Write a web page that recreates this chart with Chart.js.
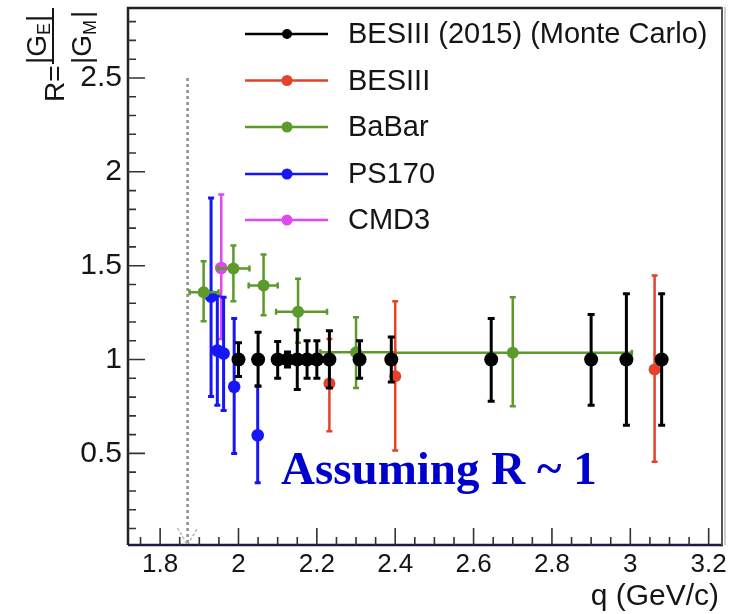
<!DOCTYPE html>
<html><head><meta charset="utf-8">
<script src="https://cdn.jsdelivr.net/npm/chart.js@4.4.1/dist/chart.umd.min.js"></script>
<style>html,body{margin:0;padding:0;background:#fff;}canvas{display:block;}</style>
</head><body>
<canvas id="c" width="733" height="614"></canvas>
<script>
// ---- tick labels ----
const xTickLabels = [1.8, 2.0, 2.2, 2.4, 2.6, 2.8, 3.0, 3.2];
const yTickLabels = [0.5, 1.0, 1.5, 2.0, 2.5];
const xMinorStep = 0.05;
const yMinorStep = 0.1;

// ---- series names ----
const seriesNames = ["BESIII (2015) (Monte Carlo)", "BESIII", "BaBar", "PS170", "CMD3"];

// ---- BESIII (2015) Monte Carlo ----
const mcQ      = [2.000, 2.050, 2.100, 2.125, 2.150, 2.175, 2.200, 2.232, 2.309, 2.390, 2.645, 2.900, 2.990, 3.080];
const mcR      = [1.000, 1.000, 1.000, 1.000, 1.000, 1.000, 1.000, 1.000, 1.000, 1.000, 1.000, 1.000, 1.000, 1.000];
const mcErrUp  = [0.090, 0.145, 0.096, 0.040, 0.158, 0.100, 0.100, 0.153, 0.100, 0.120, 0.218, 0.240, 0.350, 0.350];
const mcErrDn  = [0.090, 0.142, 0.100, 0.040, 0.160, 0.100, 0.100, 0.151, 0.100, 0.120, 0.222, 0.243, 0.350, 0.350];

// ---- BESIII ----
const besQ     = [2.232, 2.400, 3.062];
const besR     = [0.872, 0.911, 0.947];
const besErrUp = [0.238, 0.400, 0.500];
const besErrDn = [0.254, 0.396, 0.492];

// ---- BaBar ----
const babarQ      = [1.911, 1.987, 2.064, 2.152, 2.300, 2.700];
const babarR      = [1.358, 1.485, 1.394, 1.255, 1.039, 1.036];
const babarErrUp  = [0.165, 0.122, 0.165, 0.175, 0.186, 0.296];
const babarErrDn  = [0.154, 0.175, 0.158, 0.165, 0.190, 0.285];
const babarQErrLo = [0.036, 0.040, 0.038, 0.056, 0.091, 0.300];
const babarQErrHi = [0.038, 0.041, 0.036, 0.074, 0.100, 0.304];

// ---- PS170 ----
const ps170Q     = [1.930, 1.946, 1.962, 1.989, 2.049];
const ps170R     = [1.336, 1.048, 1.032, 0.855, 0.597];
const ps170ErrUp = [0.525, 0.290, 0.300, 0.363, 0.263];
const ps170ErrDn = [0.533, 0.292, 0.304, 0.356, 0.254];

// ---- CMD3 ----
const cmd3Q     = [1.956];
const cmd3R     = [1.488];
const cmd3ErrUp = [0.391];
const cmd3ErrDn = [0.378];

// ---- threshold (2 m_p) ----
const thresholdQ = 1.87;
const thresholdR = [2.5, 0.0];

const colors = ["#000000", "#e4422a", "#5b9a2b", "#1717f5", "#e048f0"];

function pts(q, r, up, dn, xl, xh) {
  return q.map((v, i) => ({x: v, y: r[i], eu: up[i], ed: dn[i], xl: xl ? xl[i] : 0, xh: xh ? xh[i] : 0}));
}

const errorBars = {
  id: 'errorBars',
  beforeDatasetDraw(chart, args) {
    const ds = chart.data.datasets[args.index];
    if (!ds.errLW) return;
    const {ctx, chartArea: a, scales: {x, y}} = chart;
    ctx.save();
    ctx.beginPath(); ctx.rect(a.left, a.top, a.right - a.left, a.bottom - a.top); ctx.clip();
    ctx.strokeStyle = ds.borderColor; ctx.lineWidth = ds.errLW; ctx.lineCap = 'butt';
    const c = ds.cap;
    ds.data.forEach(p => {
      const px = x.getPixelForValue(p.x), py = y.getPixelForValue(p.y);
      const t = y.getPixelForValue(p.y + p.eu), b = y.getPixelForValue(p.y - p.ed);
      ctx.beginPath();
      ctx.moveTo(px, t); ctx.lineTo(px, b);
      ctx.moveTo(px - c, t); ctx.lineTo(px + c, t);
      ctx.moveTo(px - c, b); ctx.lineTo(px + c, b);
      if (p.xl || p.xh) {
        const l = x.getPixelForValue(p.x - p.xl), r = x.getPixelForValue(p.x + p.xh);
        ctx.moveTo(l, py); ctx.lineTo(r, py);
        ctx.moveTo(l, py - c); ctx.lineTo(l, py + c);
        ctx.moveTo(r, py - c); ctx.lineTo(r, py + c);
      }
      ctx.stroke();
    });
    ctx.restore();
  }
};

const decor = {
  id: 'decor',
  afterDraw(chart) {
    const {ctx, chartArea: a, scales: {x, y}} = chart;
    ctx.save();
    // arrow head of threshold
    const tx = x.getPixelForValue(thresholdQ);
    ctx.strokeStyle = '#b8b8b8'; ctx.lineWidth = 1.5; ctx.setLineDash([3, 2]);
    ctx.beginPath();
    ctx.moveTo(tx - 10, a.bottom - 17); ctx.lineTo(tx, a.bottom);
    ctx.lineTo(tx + 10, a.bottom - 17);
    ctx.stroke();
    ctx.setLineDash([]);
    // frame
    ctx.strokeStyle = '#222'; ctx.lineWidth = 2.5;
    ctx.beginPath();
    ctx.moveTo(a.left, a.bottom); ctx.lineTo(a.left, a.top + 1); ctx.lineTo(a.right, a.top + 1);
    ctx.stroke();
    ctx.strokeStyle = '#1c1c40';
    ctx.beginPath(); ctx.moveTo(a.left, a.bottom); ctx.lineTo(a.right + 1, a.bottom); ctx.stroke();
    ctx.strokeStyle = '#555'; ctx.lineWidth = 2;
    ctx.beginPath(); ctx.moveTo(a.right, a.top); ctx.lineTo(a.right, a.bottom); ctx.stroke();
    ctx.strokeStyle = '#cfcfcf'; ctx.lineWidth = 2;
    ctx.beginPath(); ctx.moveTo(a.right + 3, a.top); ctx.lineTo(a.right + 3, a.bottom); ctx.stroke();
    // ticks
    ctx.strokeStyle = '#333'; ctx.lineWidth = 1.6;
    ctx.beginPath();
    for (let v = Math.ceil(x.min / xMinorStep) * xMinorStep; v <= x.max + 1e-9; v += xMinorStep) {
      const px = x.getPixelForValue(v);
      const major = xTickLabels.some(t => Math.abs(t - v) < 1e-6);
      ctx.moveTo(px, a.bottom); ctx.lineTo(px, a.bottom - (major ? 17 : 8));
    }
    for (let v = Math.ceil(y.min / yMinorStep) * yMinorStep; v <= y.max + 1e-9; v += yMinorStep) {
      const py = y.getPixelForValue(v);
      const major = yTickLabels.some(t => Math.abs(t - v) < 1e-6);
      ctx.moveTo(a.left, py); ctx.lineTo(a.left + (major ? 17 : 8), py);
    }
    ctx.stroke();

    // legend
    const rows = [34, 80.5, 127, 174, 220];
    ctx.textBaseline = 'middle'; ctx.textAlign = 'left';
    ctx.font = '29px "Liberation Sans", Arial, sans-serif';
    for (let i = 0; i < 5; i++) {
      const ds = chart.data.datasets[i];
      ctx.strokeStyle = ds.borderColor; ctx.lineWidth = 2.5;
      ctx.beginPath(); ctx.moveTo(245, rows[i]); ctx.lineTo(328, rows[i]); ctx.stroke();
      ctx.fillStyle = ds.borderColor;
      ctx.beginPath(); ctx.arc(287, rows[i], i === 0 ? 5 : 5.5, 0, Math.PI * 2); ctx.fill();
      ctx.fillStyle = '#151515';
      ctx.fillText(seriesNames[i], 348, rows[i] + 1);
    }

    // annotation
    ctx.fillStyle = '#0000cc'; ctx.textBaseline = 'alphabetic';
    ctx.font = 'bold 47px "Liberation Serif", "Times New Roman", serif';
    ctx.fillText('Assuming R ~ 1', 281, 484);

    // x title
    ctx.fillStyle = '#151515'; ctx.textAlign = 'right';
    ctx.font = '30px "Liberation Sans", Arial, sans-serif';
    ctx.fillText('q (GeV/c)', 719, 605);

    // y title (rotated)
    ctx.save();
    ctx.rotate(-Math.PI / 2);
    // local (lx, ly) -> screen (ly, -lx)
    ctx.textAlign = 'left';
    ctx.font = '28px "Liberation Sans", Arial, sans-serif';
    ctx.fillText('R=', -102, 64);
    ctx.fillText('|G', -64, 46);
    ctx.font = '18px "Liberation Sans", Arial, sans-serif';
    ctx.fillText('E', -35, 50);
    ctx.font = '28px "Liberation Sans", Arial, sans-serif';
    ctx.fillText('|', -22, 46);
    ctx.fillText('|G', -64, 91);
    ctx.font = '18px "Liberation Sans", Arial, sans-serif';
    ctx.fillText('M', -35, 96);
    ctx.font = '28px "Liberation Sans", Arial, sans-serif';
    ctx.fillText('|', -18, 91);
    ctx.strokeStyle = '#151515'; ctx.lineWidth = 2;
    ctx.beginPath(); ctx.moveTo(-64, 53); ctx.lineTo(-8, 53); ctx.stroke();
    ctx.restore();

    ctx.restore();
  }
};

const fmt = v => String(parseFloat(Number(v).toFixed(2)));

new Chart(document.getElementById('c'), {
  type: 'scatter',
  data: {
    datasets: [
      {label: seriesNames[0], data: pts(mcQ, mcR, mcErrUp, mcErrDn), borderColor: colors[0], backgroundColor: colors[0], pointRadius: 7, pointBorderWidth: 0, errLW: 3, cap: 3.5},
      {label: seriesNames[1], data: pts(besQ, besR, besErrUp, besErrDn), borderColor: colors[1], backgroundColor: colors[1], pointRadius: 6, pointBorderWidth: 0, errLW: 2.5, cap: 3},
      {label: seriesNames[2], data: pts(babarQ, babarR, babarErrUp, babarErrDn, babarQErrLo, babarQErrHi), borderColor: colors[2], backgroundColor: colors[2], pointRadius: 6, pointBorderWidth: 0, errLW: 2.5, cap: 3},
      {label: seriesNames[3], data: pts(ps170Q, ps170R, ps170ErrUp, ps170ErrDn), borderColor: colors[3], backgroundColor: colors[3], pointRadius: 6.3, pointBorderWidth: 0, errLW: 3, cap: 3},
      {label: seriesNames[4], data: pts(cmd3Q, cmd3R, cmd3ErrUp, cmd3ErrDn), borderColor: colors[4], backgroundColor: colors[4], pointRadius: 6.3, pointBorderWidth: 0, errLW: 2.5, cap: 3},
      {type: 'line', label: 'threshold', data: thresholdR.map(r => ({x: thresholdQ, y: r})), borderColor: '#8c8c8c', borderWidth: 2.5, borderDash: [3, 3], pointRadius: 0, fill: false}
    ]
  },
  options: {
    responsive: false, animation: false, devicePixelRatio: 1,
    layout: {padding: {top: 7, right: 11, left: 0, bottom: 0}},
    plugins: {legend: {display: false}, tooltip: {enabled: false}},
    scales: {
      x: {
        type: 'linear', min: 1.718, max: 3.234,
        afterFit: s => { s.height = 69; s.paddingLeft = 0; s.paddingRight = 0; },
        afterBuildTicks: s => { s.ticks = xTickLabels.map(v => ({value: v})); },
        grid: {display: false, drawTicks: false}, border: {display: false},
        ticks: {font: {family: '"Liberation Sans", Arial, sans-serif', size: 26}, color: '#151515', padding: 4, maxRotation: 0, autoSkip: false, callback: v => fmt(v)}
      },
      y: {
        type: 'linear', min: 0.012, max: 2.878,
        afterFit: s => { s.width = 128; s.paddingTop = 0; s.paddingBottom = 0; },
        afterBuildTicks: s => { s.ticks = yTickLabels.map(v => ({value: v})); },
        grid: {display: false, drawTicks: false}, border: {display: false},
        ticks: {font: {family: '"Liberation Sans", Arial, sans-serif', size: 30}, color: '#151515', padding: 6, autoSkip: false, callback: v => fmt(v)}
      }
    }
  },
  plugins: [errorBars, decor]
});
</script>
</body></html>
